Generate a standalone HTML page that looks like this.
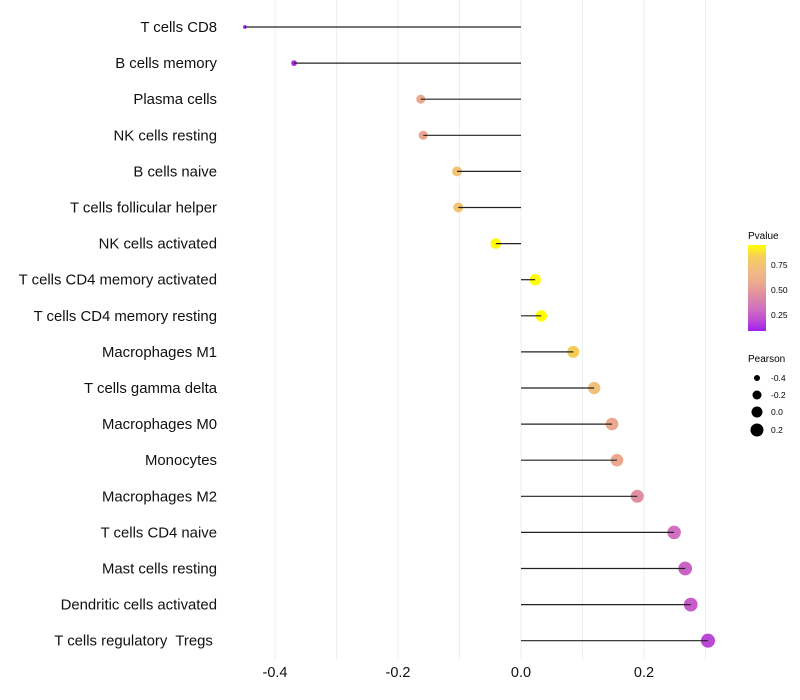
<!DOCTYPE html>
<html><head><meta charset="utf-8"><style>
body{margin:0;background:#fff;}
svg{display:block;font-family:"Liberation Sans",sans-serif;}
#ylabels text{white-space:pre;}
</style></head><body>
<svg id="chart" width="800" height="700">
<defs><linearGradient id="pg" x1="0" y1="1" x2="0" y2="0">
<stop offset="0" stop-color="#a020f0"/><stop offset="0.14" stop-color="#c050d0"/><stop offset="0.256" stop-color="#d070c0"/><stop offset="0.43" stop-color="#e08fa0"/><stop offset="0.547" stop-color="#eba890"/><stop offset="0.72" stop-color="#f2be80"/><stop offset="0.87" stop-color="#f5d058"/><stop offset="1" stop-color="#ffff00"/></linearGradient></defs>
<g id="grid"></g>
<g id="marks"></g>
<g id="ylabels"></g>
<g id="xlabels"></g>
<g>
<text x="748" y="239" font-size="10">Pvalue</text>
<rect x="748" y="245" width="18" height="86" fill="url(#pg)"/>
<text x="771" y="268" font-size="8.5">0.75</text>
<text x="771" y="293" font-size="8.5">0.50</text>
<text x="771" y="318" font-size="8.5">0.25</text>
</g>
<g>
<text x="748" y="362" font-size="10">Pearson</text>
<circle cx="757" cy="378" r="3" fill="#000"/><text x="771" y="381" font-size="8.5">-0.4</text>
<circle cx="757" cy="395" r="4.5" fill="#000"/><text x="771" y="398" font-size="8.5">-0.2</text>
<circle cx="757" cy="412" r="5.5" fill="#000"/><text x="771" y="415" font-size="8.5">0.0</text>
<circle cx="757" cy="430" r="6.5" fill="#000"/><text x="771" y="433" font-size="8.5">0.2</text>
</g>
</svg>
<script>
const categories=["T cells CD8","B cells memory","Plasma cells","NK cells resting","B cells naive","T cells follicular helper","NK cells activated","T cells CD4 memory activated","T cells CD4 memory resting","Macrophages M1","T cells gamma delta","Macrophages M0","Monocytes","Macrophages M2","T cells CD4 naive","Mast cells resting","Dendritic cells activated","T cells regulatory  Tregs "];
const pearson=[-0.449,-0.369,-0.163,-0.159,-0.104,-0.102,-0.041,0.023,0.033,0.085,0.119,0.148,0.156,0.189,0.249,0.267,0.276,0.304];
const pvalues=[0.08,0.1,0.55,0.55,0.75,0.75,0.93,0.95,0.95,0.85,0.72,0.55,0.55,0.45,0.3,0.26,0.24,0.18];
const xTicks=[-0.4,-0.2,0.0,0.2];
const xTickLabels=["-0.4","-0.2","0.0","0.2"];
const xMinor=[-0.3,-0.1,0.1,0.3];

const NS="http://www.w3.org/2000/svg";
const xs=v=>521+v*615;
const ys=i=>27+i*36.1;
const rs=v=>Math.sqrt(Math.max(2,30.7+61*v));
const stops=[[0.08,"#a020f0"],[0.2,"#c050d0"],[0.3,"#d070c0"],[0.45,"#e08fa0"],[0.55,"#eba890"],[0.7,"#f2be80"],[0.85,"#f5cc58"],[0.94,"#ffff00"]];
function hex(h){return [1,3,5].map(k=>parseInt(h.substr(k,2),16));}
function col(p){
  if(p<=stops[0][0])return stops[0][1];
  for(let k=1;k<stops.length;k++){if(p<=stops[k][0]){const t=(p-stops[k-1][0])/(stops[k][0]-stops[k-1][0]);const a=hex(stops[k-1][1]),b=hex(stops[k][1]);return "rgb("+a.map((c,j)=>Math.round(c+(b[j]-c)*t)).join(",")+")";}}
  return stops[stops.length-1][1];
}
function mk(tag,attrs,parent){const e=document.createElementNS(NS,tag);for(const k in attrs)e.setAttribute(k,attrs[k]);parent.appendChild(e);return e;}
const grid=document.getElementById('grid'),marks=document.getElementById('marks'),yl=document.getElementById('ylabels'),xl=document.getElementById('xlabels');
xTicks.concat(xMinor).forEach(v=>{
  const l=mk('line',{x1:xs(v),x2:xs(v),y1:0,y2:660,stroke:'#efefef','stroke-width':1},grid);
  
  
});
xTicks.forEach((v,i)=>{
  const t=mk('text',{x:xs(v),y:677,'font-size':14.5,'text-anchor':'middle',fill:'#111'},xl);
  t.textContent=xTickLabels[i];
  
  
});
categories.forEach((c,i)=>{
  const y=ys(i),v=pearson[i];
  const t=mk('text',{x:217,y:y+5,'font-size':14.9,'text-anchor':'end',fill:'#111'},yl);
  t.textContent=c;
  
  
  const d=mk('circle',{cx:xs(v),cy:y,r:rs(v),fill:col(pvalues[i])},marks);
  
  
  const s=mk('line',{x1:xs(0),x2:xs(v),y1:y,y2:y,stroke:'#222','stroke-width':1.2},marks);
  
  
});
</script>
</body></html>
